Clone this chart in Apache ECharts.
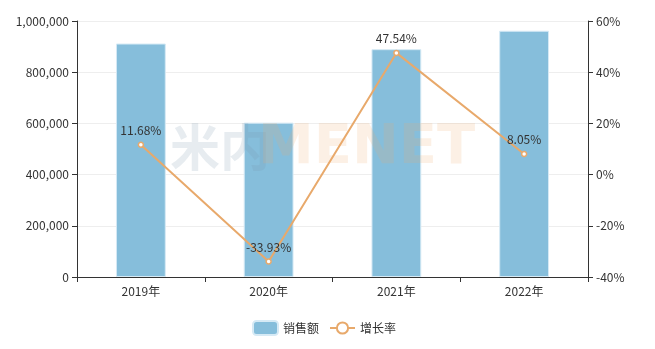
<!DOCTYPE html>
<html><head><meta charset="utf-8">
<script src="https://cdn.jsdelivr.net/npm/echarts@6/dist/echarts.min.js"></script>
<style>html,body{margin:0;padding:0;background:#fff}#c{width:655px;height:349px}</style>
</head><body><div id="c"></div>
<script>
var categories = ['2019年','2020年','2021年','2022年'];
var sales = [912000, 603000, 890000, 962000];
var growth = [11.68, -33.93, 47.54, 8.05];
var seriesNames = ['销售额','增长率'];

var chart = echarts.init(document.getElementById('c'));
chart.setOption({
  animation:false,
  textStyle:{fontFamily:'"Noto Sans CJK SC","Noto Sans",sans-serif'},
  grid:{left:77,right:67,top:21,bottom:72,containLabel:false},
  legend:{left:247,bottom:8,itemWidth:25,itemHeight:14,itemGap:10,textStyle:{color:'#333',fontSize:12},
    data:[{name:seriesNames[0]},{name:seriesNames[1]}]},
  graphic:[
    {type:'text',left:170,top:122,z:100,style:{text:'米内',font:'bold 50px "Noto Sans CJK SC"',fill:'rgba(120,150,170,0.18)'}},
    {type:'text',left:258,top:120,z:100,style:{text:'MENET',font:'bold 56px "DejaVu Sans"',fill:'rgba(240,170,110,0.18)'}}
  ],
  xAxis:{type:'category',data:categories,
    axisLine:{lineStyle:{color:'#333'}},axisTick:{show:true,lineStyle:{color:'#333'}},
    axisLabel:{color:'#333',fontSize:12,margin:8}},
  yAxis:[
    {type:'value',min:0,max:1000000,interval:200000,
     axisLine:{show:true,lineStyle:{color:'#333'}},axisTick:{show:true,lineStyle:{color:'#333'}},
     axisLabel:{color:'#333',fontSize:12,formatter:function(v){return v.toLocaleString('en-US');}},
     splitLine:{lineStyle:{color:'#eee'}}},
    {type:'value',min:-40,max:60,interval:20,
     axisLine:{show:true,lineStyle:{color:'#333'}},axisTick:{show:true,lineStyle:{color:'#333'}},
     axisLabel:{color:'#333',fontSize:12,formatter:'{value}%'},
     splitLine:{show:false}}
  ],
  series:[
    {name:seriesNames[0],type:'bar',data:sales,barWidth:'39%',
     itemStyle:{color:'#86bedb',borderColor:'#d6eaf5',borderWidth:1}},
    {name:seriesNames[1],type:'line',yAxisIndex:1,data:growth,
     symbol:'circle',symbolSize:5,
     lineStyle:{color:'#e8a96b',width:2},
     itemStyle:{color:'#fff',borderColor:'#e8a96b',borderWidth:1.5},
     label:{show:true,position:'top',color:'#333',fontSize:12,formatter:'{c}%'}}
  ]
});
</script></body></html>
